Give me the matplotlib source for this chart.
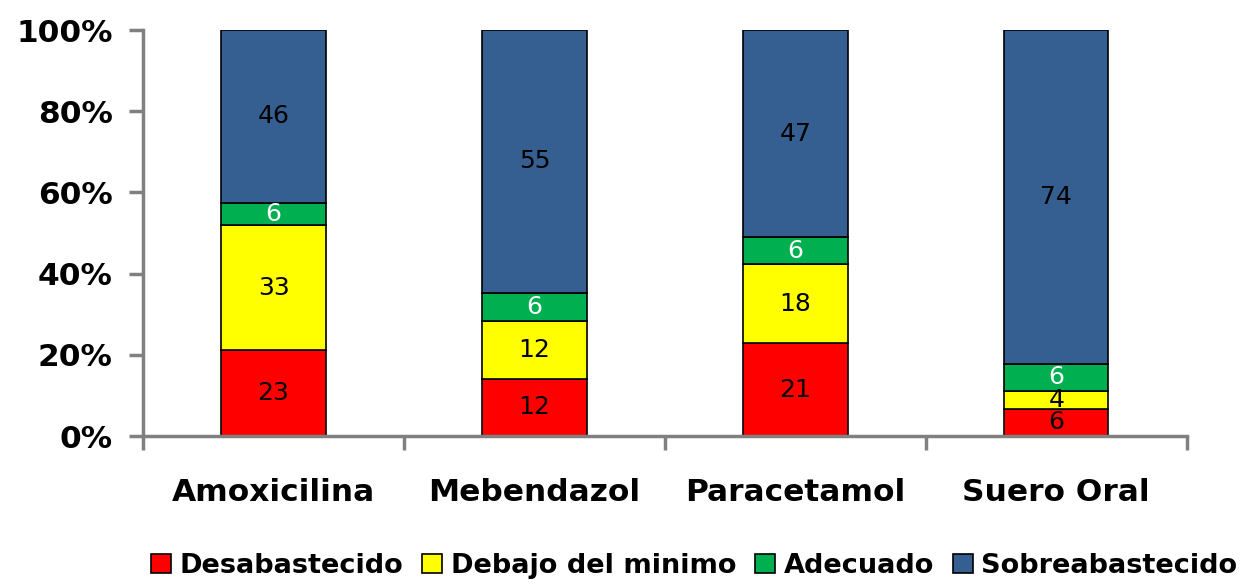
import numpy as np
import matplotlib
matplotlib.use("Agg")
import matplotlib.pyplot as plt
from matplotlib.ticker import FuncFormatter

# datos (conteos por categoria)
medicamentos = ["Amoxicilina", "Mebendazol", "Paracetamol", "Suero Oral"]
desabastecido = [23, 12, 21, 6]
debajo_minimo = [33, 12, 18, 4]
adecuado = [6, 6, 6, 6]
sobreabastecido = [46, 55, 47, 74]

series = [
    ("Desabastecido", desabastecido, "#FF0000", "black"),
    ("Debajo del minimo", debajo_minimo, "#FFFF00", "black"),
    ("Adecuado", adecuado, "#00B050", "white"),
    ("Sobreabastecido", sobreabastecido, "#365F91", "black"),
]

totales = np.sum([s[1] for s in series], axis=0)
x = np.arange(len(medicamentos))

fig = plt.figure(figsize=(12.44, 5.84), dpi=100)
ax = fig.add_axes([0.115, 0.2534, 0.839, 0.6952])

base = np.zeros(len(medicamentos))
for nombre, vals, color, txtcolor in series:
    vals = np.array(vals, dtype=float)
    pct = vals / totales * 100
    ax.bar(x, pct, 0.4, bottom=base, color=color, edgecolor="black",
           linewidth=1.2, label=nombre)
    for xi, b, p, v in zip(x, base, pct, vals):
        ax.text(xi, b + p / 2, f"{int(v)}", ha="center", va="center",
                fontsize=18, color=txtcolor)
    base += pct

ax.set_xlim(-0.5, len(medicamentos) - 0.5)
ax.set_ylim(0, 100)
ax.set_yticks(np.arange(0, 101, 20))
ax.yaxis.set_major_formatter(FuncFormatter(lambda v, _: f"{int(v)}%"))

ax.set_xticks(x)
ax.set_xticklabels(medicamentos)
ax.set_xticks(np.arange(-0.5, len(medicamentos), 1), minor=True)
ax.tick_params(axis="x", which="major", length=0, pad=30)
ax.tick_params(axis="x", which="minor", length=10, width=2.5, color="#808080")
ax.tick_params(axis="y", length=10, width=2.5, color="#808080", pad=12)

for lbl in ax.get_xticklabels() + ax.get_yticklabels():
    lbl.set_fontsize(22.5)
    lbl.set_fontweight("bold")

for lado in ["top", "right"]:
    ax.spines[lado].set_visible(False)
for lado in ["left", "bottom"]:
    ax.spines[lado].set_color("#808080")
    ax.spines[lado].set_linewidth(2.5)

fig.legend(loc="lower center", bbox_to_anchor=(0.558, -0.033), ncol=4,
           frameon=False, prop={"size": 19.5, "weight": "bold"},
           handlelength=0.75, handleheight=0.75, handletextpad=0.3,
           columnspacing=0.7)

fig.savefig("out.png", dpi=100)
